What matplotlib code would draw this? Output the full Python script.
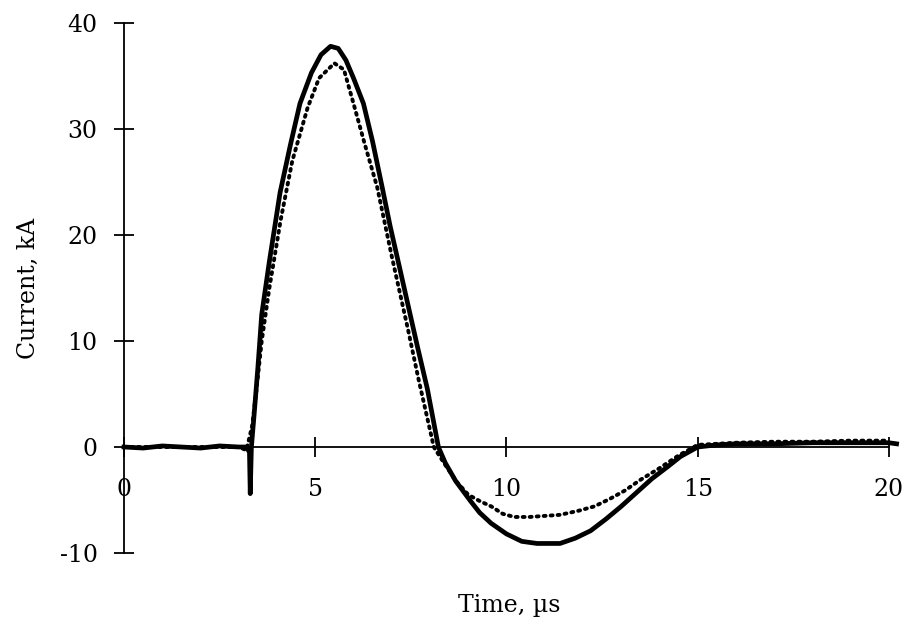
import matplotlib
matplotlib.use("Agg")
import matplotlib.pyplot as plt

# Solid trace (measured current), time in µs, current in kA
t_solid = [0.0, 0.5, 1.0, 1.5, 2.0, 2.5, 3.0, 3.2, 3.28, 3.30, 3.33, 3.40, 3.50, 3.60,
           3.80, 4.08, 4.35, 4.60, 4.90, 5.15, 5.40, 5.60, 5.80, 6.00, 6.26, 6.50,
           6.75, 6.96, 7.20, 7.45, 7.67, 7.93, 8.22, 8.40, 8.67, 9.06, 9.30, 9.60,
           10.0, 10.4, 10.8, 11.4, 11.8, 12.2, 12.6, 13.0, 13.4, 13.8, 14.2, 14.55,
           15.0, 15.5, 16.0, 17.0, 18.0, 19.0, 20.0, 20.2]
i_solid = [0.0, -0.1, 0.1, 0.0, -0.1, 0.1, 0.0, 0.0, -0.5, -4.4, 0.0, 3.0, 7.5, 12.5,
           17.5, 24.0, 28.5, 32.4, 35.3, 37.0, 37.8, 37.6, 36.5, 34.8, 32.4, 28.8,
           24.5, 20.8, 17.0, 13.0, 9.5, 5.5, 0.0, -1.5, -3.2, -5.1, -6.2, -7.2,
           -8.2, -8.9, -9.1, -9.1, -8.6, -7.9, -6.8, -5.6, -4.3, -3.0, -1.9, -0.9,
           0.0, 0.2, 0.3, 0.3, 0.4, 0.4, 0.4, 0.3]

# Dotted trace (second record)
t_dot = [0.0, 1.0, 2.0, 3.0, 3.2, 3.35, 3.45, 3.6, 3.8, 4.1, 4.4, 4.8, 5.1, 5.5,
         5.75, 6.0, 6.3, 6.62, 7.0, 7.43, 7.7, 7.9, 8.1, 8.4, 8.7, 9.0, 9.3,
         9.6, 9.9, 10.2, 10.6, 11.0, 11.4, 11.9, 12.3, 12.7, 13.1, 13.5, 14.0,
         14.5, 15.0, 16.0, 17.0, 18.0, 19.0, 20.0]
i_dot = [0.0, 0.0, 0.0, 0.0, -0.3, 2.0, 5.0, 10.0, 15.0, 21.5, 27.0, 32.0, 34.8, 36.2,
         35.6, 32.4, 28.5, 24.5, 18.0, 11.0, 6.4, 3.2, 0.0, -1.7, -3.3, -4.5, -5.1,
         -5.6, -6.3, -6.6, -6.6, -6.5, -6.4, -6.0, -5.6, -4.9, -4.1, -3.1, -2.0,
         -0.8, 0.2, 0.4, 0.5, 0.5, 0.6, 0.6]

x_ticks = [0, 5, 10, 15, 20]
x_labels = ['0', '5', '10', '15', '20']
y_ticks = [-10, 0, 10, 20, 30, 40]
y_labels = ['-10', '0', '10', '20', '30', '40']

plt.rcParams['font.family'] = ['DejaVu Serif']

fig = plt.figure(figsize=(9.08, 6.26), dpi=100)
ax = fig.add_axes([0.1366, 0.1166, 0.979 - 0.1366, 0.9633 - 0.1166])

ax.plot(t_dot, i_dot, color='black', lw=2.8, linestyle=(0, (0.5, 1.3)),
        dash_capstyle='round', clip_on=False, zorder=2)
ax.plot(t_solid, i_solid, color='black', lw=3.4, clip_on=False, zorder=3,
        solid_joinstyle='round')

ax.set_xlim(0, 20)
ax.set_ylim(-10, 40)
ax.set_xticks(x_ticks)
ax.set_xticklabels(x_labels)
ax.set_yticks(y_ticks)
ax.set_yticklabels(y_labels)

ax.spines['left'].set_position(('data', 0))
ax.spines['bottom'].set_position(('data', 0))
ax.spines['top'].set_visible(False)
ax.spines['right'].set_visible(False)
for s in ('left', 'bottom'):
    ax.spines[s].set_linewidth(1.3)

ax.tick_params(axis='both', direction='inout', length=14, width=1.3,
               labelsize=17, colors='black')
ax.tick_params(axis='x', pad=15)
ax.tick_params(axis='y', pad=12)

ax.set_xlabel('Time, µs', fontsize=17, labelpad=0)
ax.set_ylabel('Current, kA', fontsize=17)
ax.xaxis.set_label_coords(0.503, -0.077)
ax.yaxis.set_label_coords(-0.11, 0.5)

fig.savefig('out.png', dpi=100)
